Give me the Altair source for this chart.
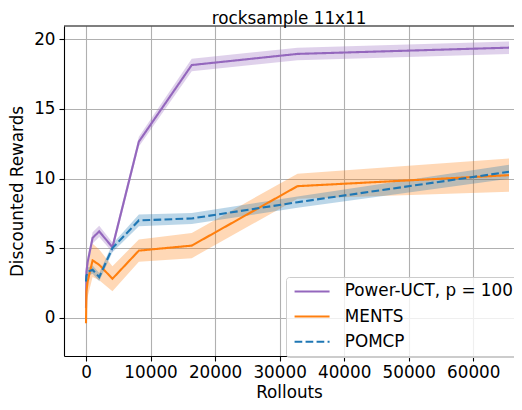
import altair as alt
import pandas as pd

# ---- data ----
rollouts = [1, 64, 256, 1024, 2048, 4096, 8192, 16384, 32768, 65536]

series_names = ["Power-UCT, p = 100", "MENTS", "POMCP"]
series_colors = ["#9467bd", "#ff7f0e", "#1f77b4"]

power_uct_mean = [0.7, 3.3, 4.0, 5.74, 6.2, 5.06, 12.65, 18.15, 18.95, 19.4]
power_uct_err = [0.3, 0.4, 0.4, 0.4, 0.4, 0.35, 0.35, 0.45, 0.45, 0.45]

ments_mean = [-0.4, 1.9, 2.6, 4.12, 3.8, 2.8, 4.82, 5.18, 9.45, 10.24]
ments_err = [0.3, 1.0, 1.1, 1.2, 1.1, 0.9, 0.8, 0.9, 0.9, 1.2]

pomcp_mean = [2.6, 3.0, 3.3, 3.45, 2.92, 5.0, 6.99, 7.13, 8.3, 10.48]
pomcp_err = [0.3, 0.3, 0.3, 0.3, 0.3, 0.3, 0.42, 0.4, 0.4, 0.5]

x_ticks = [0, 10000, 20000, 30000, 40000, 50000, 60000]
y_ticks = [0, 5, 10, 15, 20]

rows = []
for name, means, errs in zip(series_names,
                             [power_uct_mean, ments_mean, pomcp_mean],
                             [power_uct_err, ments_err, pomcp_err]):
    for xv, m, e in zip(rollouts, means, errs):
        rows.append({"series": name, "x": xv, "mean": m, "lo": m - e, "hi": m + e})
df = pd.DataFrame(rows)

FONT = "DejaVu Sans"
FS = 16.8
W, H = 450, 330

xscale = alt.Scale(domain=[-3408, 66310], nice=False, zero=False)
yscale = alt.Scale(domain=[-2.75, 20.955], nice=False, zero=False)
cscale = alt.Scale(domain=series_names, range=series_colors)
fscale = alt.Scale(domain=series_names, range=series_colors)
dscale = alt.Scale(domain=series_names, range=[[1, 0], [1, 0], [7.7, 3.3]])

xaxis = alt.Axis(title="Rollouts", values=x_ticks, format="d", grid=True,
                 labelPadding=3, titlePadding=4)
yaxis = alt.Axis(title="Discounted Rewards", values=y_ticks, grid=True,
                 labelPadding=4, titlePadding=7)

legend = alt.Legend(title=None, orient="none", legendX=222, legendY=251,
                    direction="vertical",
                    symbolType="M-1,0H5", symbolSize=136, symbolStrokeWidth=2,
                    labelFont=FONT, labelFontSize=FS, labelColor="black",
                    labelOffset=36, labelLimit=300, rowPadding=7.2, padding=6,
                    fillColor="rgba(255,255,255,0.8)", strokeColor="#cccccc",
                    cornerRadius=3)

base = alt.Chart(df)

bands = base.mark_area(opacity=0.3, clip=True).encode(
    x=alt.X("x:Q", scale=xscale, axis=xaxis),
    y=alt.Y("lo:Q", scale=yscale, axis=yaxis),
    y2="hi:Q",
    fill=alt.Fill("series:N", scale=fscale, legend=None),
    detail="series:N",
)

lines = base.mark_line(strokeWidth=2.1, clip=True).encode(
    x=alt.X("x:Q", scale=xscale, axis=xaxis),
    y=alt.Y("mean:Q", scale=yscale, axis=yaxis),
    color=alt.Color("series:N", scale=cscale, legend=legend, sort=series_names),
    strokeDash=alt.StrokeDash("series:N", scale=dscale, legend=legend, sort=series_names),
)

top_spine = alt.Chart(pd.DataFrame({"a": [0]})).mark_rule(
    color="black", strokeWidth=1.1
).encode(x=alt.value(0), x2=alt.value(W), y=alt.value(0))

chart = alt.layer(bands, lines, top_spine).resolve_scale(fill="independent").properties(
    width=W, height=H,
    title=alt.TitleParams("rocksample 11x11", font=FONT, fontSize=FS,
                          fontWeight="normal", color="black", offset=-2),
    autosize=alt.AutoSizeParams(type="none"),
    padding={"left": 56, "top": 18, "right": 0, "bottom": 46},
).configure_view(stroke=None).configure_axis(
    labelFont=FONT, titleFont=FONT, labelFontSize=FS, titleFontSize=FS,
    labelColor="black", titleColor="black", titleFontWeight="normal",
    domainColor="black", domainWidth=1.1, tickColor="black", tickWidth=1.1,
    tickSize=5, gridColor="#b0b0b0", gridWidth=1.1,
)

chart.save("out.html", embed_options={"renderer": "svg", "actions": False})
